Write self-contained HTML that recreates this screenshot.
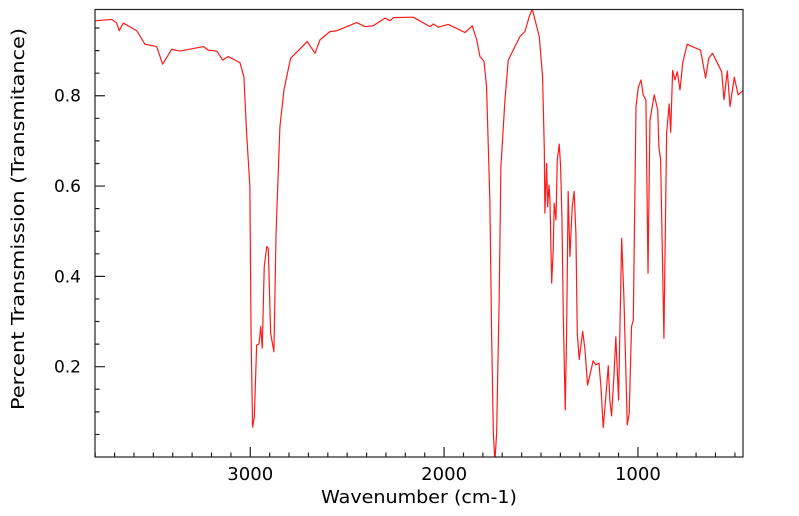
<!DOCTYPE html>
<html><head><meta charset="utf-8"><style>
html,body{margin:0;padding:0;background:#fff;}
svg{display:block;font-family:"DejaVu Sans","Liberation Sans",sans-serif;}
</style></head><body>
<svg id="chart" width="799" height="516" xmlns="http://www.w3.org/2000/svg">
<defs><clipPath id="clip"><rect x="95" y="9.5" width="648" height="447.5"/></clipPath></defs>
<g id="marks" clip-path="url(#clip)"></g>
<g id="axes"></g>
<text x="419" y="503" font-size="18" text-anchor="middle" textLength="196" lengthAdjust="spacingAndGlyphs">Wavenumber (cm-1)</text>
<text transform="translate(24,219) rotate(-90)" font-size="18" text-anchor="middle" textLength="382" lengthAdjust="spacingAndGlyphs">Percent Transmission (Transmitance)</text>
</svg>
<script>
const wavenumbers=[3801,3715,3689,3676,3655,3586,3543,3483,3452,3405,3363,3242,3217,3173,3142,3114,3053,3033,3019,3002,2996,2988,2979,2967,2955,2946,2938,2928,2915,2907,2895,2878,2867,2847,2826,2792,2706,2666,2640,2589,2554,2451,2408,2366,2305,2279,2262,2159,2073,2056,2030,2021,1979,1935,1892,1855,1832,1815,1794,1781,1764,1755,1746,1738,1729,1716,1707,1686,1669,1609,1583,1561,1545,1531,1509,1492,1483,1480,1471,1466,1459,1454,1445,1437,1432,1423,1416,1406,1399,1392,1385,1375,1368,1360,1351,1339,1329,1320,1313,1303,1285,1273,1260,1231,1217,1201,1191,1179,1167,1153,1145,1136,1124,1114,1100,1084,1072,1055,1045,1033,1024,1010,998,984,973,959,948,938,916,898,892,883,866,852,839,831,821,809,797,783,769,746,677,651,635,615,568,556,539,525,503,483,460];
const transmission=[0.966,0.969,0.961,0.944,0.961,0.944,0.914,0.909,0.870,0.903,0.899,0.909,0.901,0.899,0.879,0.887,0.873,0.842,0.718,0.599,0.275,0.066,0.089,0.248,0.250,0.289,0.241,0.421,0.466,0.462,0.274,0.233,0.495,0.732,0.813,0.883,0.920,0.894,0.924,0.942,0.944,0.962,0.953,0.955,0.972,0.966,0.973,0.974,0.953,0.959,0.952,0.953,0.958,0.949,0.940,0.955,0.924,0.887,0.876,0.820,0.569,0.275,0.053,-0.01,0.053,0.348,0.643,0.791,0.879,0.931,0.942,0.975,0.992,0.968,0.931,0.842,0.680,0.540,0.650,0.554,0.602,0.569,0.385,0.458,0.562,0.525,0.658,0.693,0.643,0.525,0.311,0.104,0.274,0.588,0.444,0.554,0.588,0.495,0.274,0.216,0.278,0.237,0.159,0.213,0.204,0.208,0.156,0.065,0.126,0.202,0.126,0.091,0.178,0.266,0.126,0.484,0.348,0.071,0.097,0.289,0.303,0.776,0.819,0.835,0.802,0.791,0.407,0.746,0.802,0.769,0.687,0.658,0.263,0.717,0.782,0.719,0.856,0.835,0.853,0.813,0.873,0.914,0.901,0.839,0.883,0.894,0.853,0.791,0.855,0.776,0.841,0.802,0.811];
const xTickLabels=[3000,2000,1000];
const yTickLabels=[0.2,0.4,0.6,0.8];
const xDomain=[3801,458];
const yDomain=[0,0.991];

const L=95,R=743,T=9.5,B=457;
function xs(v){return L+(v-xDomain[0])/(xDomain[1]-xDomain[0])*(R-L);}
function ys(v){return B-(v-yDomain[0])/(yDomain[1]-yDomain[0])*(B-T);}
const NS='http://www.w3.org/2000/svg';
const marks=document.getElementById('marks');
const axes=document.getElementById('axes');

const line=document.createElementNS(NS,'polyline');


line.setAttribute('points',wavenumbers.map((w,i)=>xs(w).toFixed(2)+','+ys(transmission[i]).toFixed(2)).join(' '));
line.setAttribute('fill','none');
line.setAttribute('stroke','#ff1a1a');
line.setAttribute('stroke-width','1.2');
line.setAttribute('stroke-linejoin','round');
marks.appendChild(line);

const frame=document.createElementNS(NS,'rect');


frame.setAttribute('x',L);frame.setAttribute('y',T);
frame.setAttribute('width',R-L);frame.setAttribute('height',B-T);
frame.setAttribute('fill','none');frame.setAttribute('stroke','#222');frame.setAttribute('stroke-width','1.2');
axes.appendChild(frame);

let d='';
for(let w=3800;w>=500;w-=100){const x=xs(w);const len=(w%1000===0)?10:4.5;d+=`M${x.toFixed(2)},${B}V${B-len}`;}
for(let k=1;k<=19;k++){const v=k*0.05;const y=ys(v);const len=(k%4===0)?10:4.5;d+=`M${L},${y.toFixed(2)}H${L+len}`;}
const ticks=document.createElementNS(NS,'path');


ticks.setAttribute('d',d);ticks.setAttribute('stroke','#222');ticks.setAttribute('stroke-width','1.2');
axes.appendChild(ticks);

xTickLabels.forEach(v=>{
  const t=document.createElementNS(NS,'text');
  
  
  t.setAttribute('x',xs(v));t.setAttribute('y',B+23);
  t.setAttribute('font-size','18');t.setAttribute('text-anchor','middle');
  t.setAttribute('textLength','46');t.setAttribute('lengthAdjust','spacingAndGlyphs');
  t.textContent=v;axes.appendChild(t);
});
yTickLabels.forEach(v=>{
  const t=document.createElementNS(NS,'text');
  
  
  t.setAttribute('x',L-14);t.setAttribute('y',ys(v)+6);
  t.setAttribute('font-size','17');t.setAttribute('text-anchor','end');
  t.textContent=v.toFixed(1);axes.appendChild(t);
});
</script>
</body></html>
